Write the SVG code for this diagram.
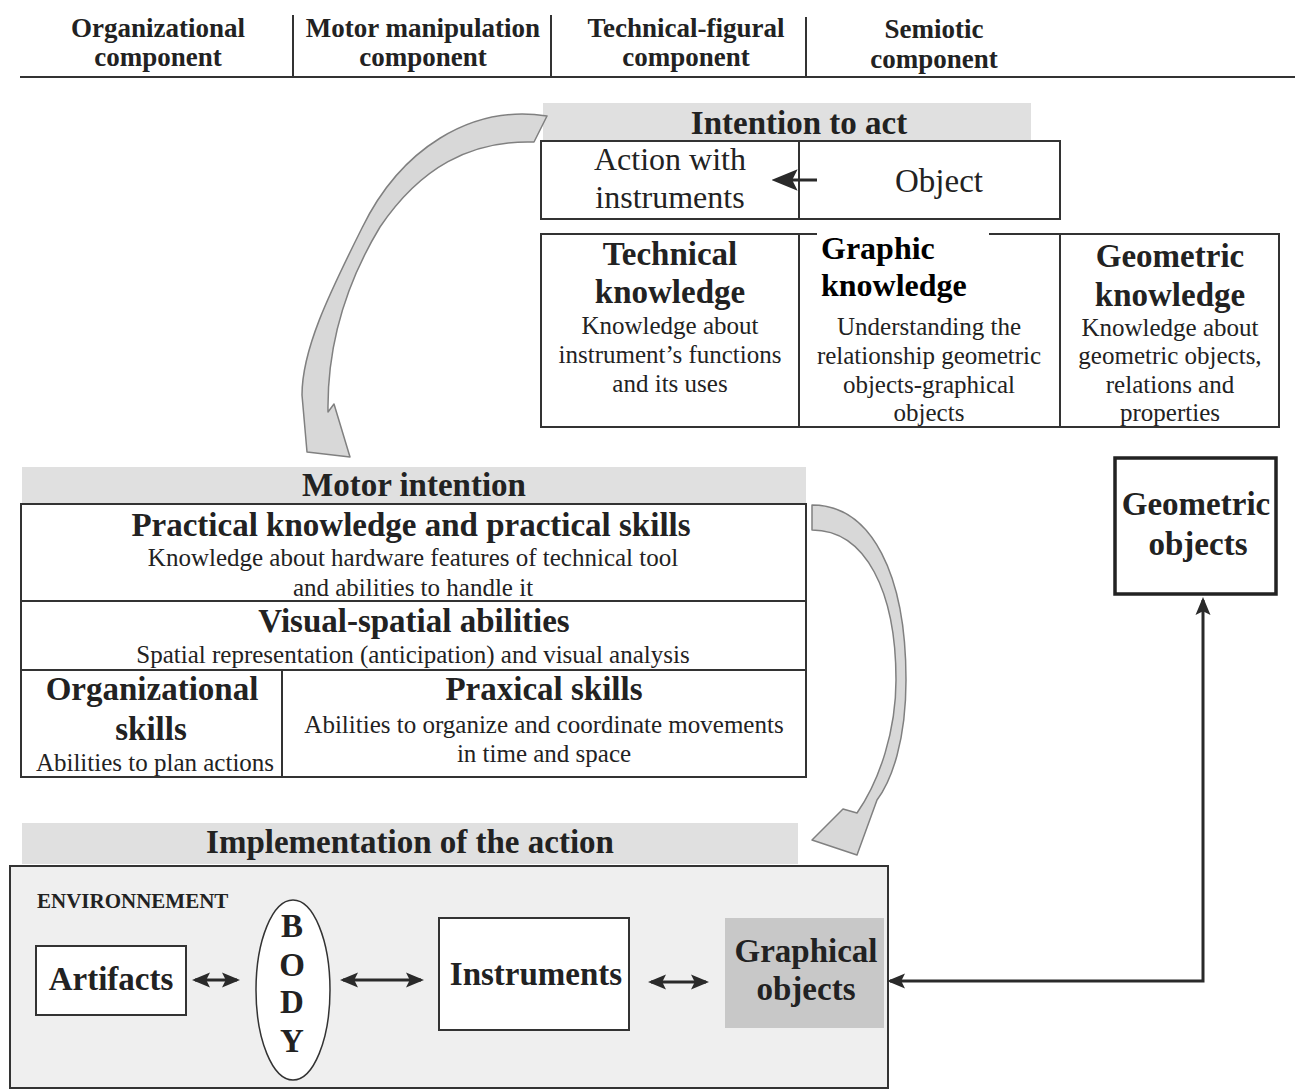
<svg xmlns="http://www.w3.org/2000/svg" width="1295" height="1090" viewBox="0 0 1295 1090">
<style>
.t{font-family:"Liberation Serif","Times New Roman",serif;fill:#222}
.b{font-weight:bold}
.h{font-size:27px}
.big{font-size:33px}
.sm{font-size:25px}
.mid{text-anchor:middle}
.box{fill:#fff;stroke:#333;stroke-width:2}
.band{fill:#e0e0e0}
.ln{fill:none;stroke:#333;stroke-width:2}
.curve{fill:#d8d8d8;stroke:#808080;stroke-width:1.5;stroke-linejoin:round}
.conn{fill:none;stroke:#2a2a2a;stroke-width:3}
</style>
<defs>
<marker id="ah" viewBox="0 0 12 12" markerUnits="userSpaceOnUse" markerWidth="18" markerHeight="18" refX="10" refY="6" orient="auto-start-reverse">
<path d="M0,1 L12,6 L0,11 L2.5,6 z" fill="#2a2a2a"/>
</marker>
<marker id="ahb" viewBox="0 0 12 12" markerUnits="userSpaceOnUse" markerWidth="26" markerHeight="26" refX="10" refY="6" orient="auto-start-reverse">
<path d="M0,1 L12,6 L0,11 L2.5,6 z" fill="#2a2a2a"/>
</marker>
</defs>
<rect width="1295" height="1090" fill="#fff"/>

<g id="header">
<line class="ln" x1="20" y1="77" x2="1295" y2="77"/>
<line class="ln" x1="293" y1="15" x2="293" y2="76" stroke-width="1.5"/>
<line class="ln" x1="551" y1="15" x2="551" y2="76" stroke-width="1.5"/>
<line class="ln" x1="806" y1="17" x2="806" y2="76" stroke-width="1.5"/>
<text class="t b h mid" x="158" y="37">Organizational</text>
<text class="t b h mid" x="158" y="66">component</text>
<text class="t b h mid" x="423" y="37">Motor manipulation</text>
<text class="t b h mid" x="423" y="66">component</text>
<text class="t b h mid" x="686" y="37">Technical-figural</text>
<text class="t b h mid" x="686" y="66">component</text>
<text class="t b h mid" x="934" y="38">Semiotic</text>
<text class="t b h mid" x="934" y="68">component</text>
</g>

<g id="intention">
<rect class="band" x="543" y="103" width="488" height="38"/>
<text class="t b big mid" x="799" y="134">Intention to act</text>
<rect class="box" x="541" y="141" width="519" height="78"/>
<line class="ln" x1="799" y1="141" x2="799" y2="219"/>
<text class="t" font-size="32" x="670" y="170" text-anchor="middle">Action with</text>
<text class="t" font-size="32" x="670" y="208" text-anchor="middle">instruments</text>
<text class="t" font-size="33" x="939" y="192" text-anchor="middle">Object</text>
</g>

<g id="knowledge">
<rect class="box" x="541" y="234" width="738" height="193"/>
<line class="ln" x1="799" y1="234" x2="799" y2="427"/>
<line class="ln" x1="1060" y1="234" x2="1060" y2="427"/>
<text class="t b big mid" x="670" y="265">Technical</text>
<text class="t b big mid" x="670" y="303">knowledge</text>
<text class="t sm mid" x="670" y="334">Knowledge about</text>
<text class="t sm mid" x="670" y="363">instrument’s functions</text>
<text class="t sm mid" x="670" y="392">and its uses</text>
<rect x="817" y="231" width="172" height="70" fill="#fff"/>
<text class="t b" font-size="32" x="821" y="259" style="fill:#000">Graphic</text>
<text class="t b" font-size="32" x="821" y="296" style="fill:#000">knowledge</text>
<text class="t sm mid" x="929" y="335">Understanding the</text>
<text class="t sm mid" x="929" y="364">relationship geometric</text>
<text class="t sm mid" x="929" y="393">objects-graphical</text>
<text class="t sm mid" x="929" y="421">objects</text>
<text class="t b big mid" x="1170" y="267">Geometric</text>
<text class="t b big mid" x="1170" y="306">knowledge</text>
<text class="t sm mid" x="1170" y="336">Knowledge about</text>
<text class="t sm mid" x="1170" y="364">geometric objects,</text>
<text class="t sm mid" x="1170" y="393">relations and</text>
<text class="t sm mid" x="1170" y="421">properties</text>
</g>

<g id="geometric-objects">
<rect x="1115" y="458" width="161" height="136" fill="#fff" stroke="#222" stroke-width="3.5"/>
<text class="t b big mid" x="1196" y="515">Geometric</text>
<text class="t b big mid" x="1198" y="555">objects</text>
</g>

<g id="motor-intention">
<rect class="band" x="22" y="467" width="784" height="37"/>
<text class="t b big mid" x="414" y="496">Motor intention</text>
<rect class="box" x="21" y="504" width="785" height="273"/>
<line class="ln" x1="21" y1="601" x2="806" y2="601"/>
<line class="ln" x1="21" y1="670" x2="806" y2="670"/>
<line class="ln" x1="282" y1="670" x2="282" y2="777"/>
<text class="t b big mid" x="411" y="536">Practical knowledge and practical skills</text>
<text class="t sm mid" x="413" y="566">Knowledge about hardware features of technical tool</text>
<text class="t sm mid" x="413" y="596">and abilities to handle it</text>
<text class="t b big mid" x="414" y="632">Visual-spatial abilities</text>
<text class="t sm mid" x="413" y="663">Spatial representation (anticipation) and visual analysis</text>
<text class="t b big mid" x="152" y="700">Organizational</text>
<text class="t b big mid" x="151" y="740">skills</text>
<text class="t sm mid" x="155" y="771">Abilities to plan actions</text>
<text class="t b big mid" x="544" y="700">Praxical skills</text>
<text class="t sm mid" x="544" y="733">Abilities to organize and coordinate movements</text>
<text class="t sm mid" x="544" y="762">in time and space</text>
</g>

<g id="implementation">
<rect class="band" x="22" y="823" width="776" height="41"/>
<text class="t b big mid" x="410" y="853">Implementation of the action</text>
<rect x="10" y="866" width="878" height="222" fill="#efefef" stroke="#333" stroke-width="2"/>
<text class="t b" font-size="21" x="37" y="908">ENVIRONNEMENT</text>
</g>

<g id="artifacts">
<rect class="box" x="36" y="946" width="150" height="69"/>
<text class="t b big mid" x="111" y="990">Artifacts</text>
</g>

<g id="body">
<ellipse cx="293" cy="990" rx="37" ry="90" fill="#fff" stroke="#333" stroke-width="1.5"/>
<text class="t b big mid" x="292" y="937">B</text>
<text class="t b big mid" x="292" y="976">O</text>
<text class="t b big mid" x="292" y="1013">D</text>
<text class="t b big mid" x="292" y="1052">Y</text>
</g>

<g id="instruments">
<rect class="box" x="439" y="918" width="190" height="112"/>
<text class="t b big mid" x="536" y="985">Instruments</text>
</g>

<g id="graphical-objects">
<rect x="725" y="918" width="159" height="110" fill="#c8c8c8"/>
<text class="t b big mid" x="806" y="962">Graphical</text>
<text class="t b big mid" x="806" y="1000">objects</text>
</g>

<g id="connectors">
<path class="curve" d="M547,116 C470,104 400,150 362,228 C328,296 302,350 302,395 L307,452 L350,457 L334,404 L328,412 C327,345 345,285 380,227 C420,168 470,140 534,142 Z"/>
<path class="curve" d="M812,505 C872,505 906,575 906,680 C906,740 892,780 877,800 L857,855 L812,840 L843,809 L857,813 C880,780 896,730 896,680 C896,592 866,530 812,530 Z"/>
<line class="conn" stroke-width="4.5" x1="817" y1="180" x2="776" y2="180" marker-end="url(#ahb)"/>
<line class="conn" x1="195" y1="980" x2="237" y2="980" marker-start="url(#ah)" marker-end="url(#ah)"/>
<line class="conn" x1="343" y1="980" x2="421" y2="980" marker-start="url(#ah)" marker-end="url(#ah)"/>
<line class="conn" x1="651" y1="982" x2="706" y2="982" marker-start="url(#ah)" marker-end="url(#ah)"/>
<polyline class="conn" points="890,981 1203,981 1203,600" marker-start="url(#ah)" marker-end="url(#ah)"/>
</g>
</svg>
